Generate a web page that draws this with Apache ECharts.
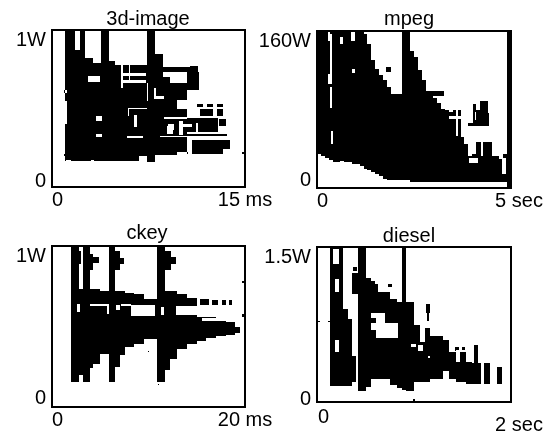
<!DOCTYPE html>
<html>
<head>
<meta charset="utf-8">
<title>power traces</title>
<style>
html, body { margin: 0; padding: 0; background: #fff; }
#chart { width: 552px; height: 435px; }
</style>
<script src="https://cdn.jsdelivr.net/npm/echarts@6/dist/echarts.min.js"></script>
</head>
<body>
<div id="chart"></div>
<script>
// every run is [fromX, toX, lowY, highY] in axis units (ms or sec, W)
const titles = ['3d-image', 'mpeg', 'ckey', 'diesel']
const yMaxLabels = ['1W', '160W', '1W', '1.5W']
const xMaxLabels = ['15 ms', '5 sec', '20 ms', '2 sec']
const xMax = [15, 5, 20, 2]
const yMax = [1, 160, 1, 1.5]

const imageRuns = [
  [1.04, 1.77, 0.163, 1], [1.77, 2.16, 0.163, 0.873], [2.16, 2.55, 0.163, 1], [2.55, 3.19, 0.163, 0.82],
  [3.19, 3.84, 0.163, 0.788], [3.84, 4.42, 0.163, 1], [4.42, 4.88, 0.163, 0.8], [4.88, 7.35, 0.163, 0.78],
  [7.35, 8.0, 0.157, 1], [8.0, 8.65, 0.206, 0.85], [8.65, 9.17, 0.206, 0.7], [9.17, 9.69, 0.206, 0.66],
  [9.69, 10.47, 0.555, 0.66], [9.69, 10.47, 0.22, 0.5], [10.47, 11.4, 0.62, 0.73], [10.73, 11.38, 0.72, 0.77],
  [8.4, 10.7, 0.735, 0.765], [11.25, 11.75, 0.51, 0.53], [12.03, 12.55, 0.51, 0.53], [12.81, 13.3, 0.51, 0.53],
  [11.5, 12.5, 0.45, 0.5], [12.8, 13.3, 0.45, 0.5], [10.2, 12.9, 0.35, 0.44], [13.0, 13.55, 0.39, 0.43],
  [9.2, 13.6, 0.325, 0.34], [10.9, 13.3, 0.21, 0.3], [13.3, 13.84, 0.24, 0.3], [14.8, 14.9, 0.21, 0.22],
  [0.9, 1.04, 0.6, 0.62], [0.9, 1.04, 0.2, 0.21], [10.5, 10.6, 0.21, 0.225]
]
const imageGaps = [
  [2.8, 3.7, 0.67, 0.71], [5.4, 5.5, 0.63, 0.78], [5.4, 7.3, 0.71, 0.725], [5.5, 7.3, 0.66, 0.68],
  [6.0, 6.1, 0.68, 0.78], [3.45, 3.85, 0.42, 0.45], [5.9, 7.35, 0.495, 0.505], [5.9, 6.0, 0.45, 0.5],
  [6.4, 6.6, 0.38, 0.46], [5.8, 7.1, 0.315, 0.325], [3.45, 3.9, 0.32, 0.335], [8.1, 8.7, 0.56, 0.58],
  [7.9, 8.05, 0.56, 0.63], [7.35, 7.45, 0.55, 0.66], [8.7, 10.5, 0.43, 0.445], [9.0, 9.5, 0.36, 0.4],
  [9.9, 10.2, 0.33, 0.42], [8.9, 9.4, 0.34, 0.39], [11.2, 11.35, 0.34, 0.41], [10.1, 10.9, 0.38, 0.4],
  [8.4, 13.6, 0.318, 0.325], [6.8, 7.35, 0.163, 0.195], [1.04, 1.2, 0.4, 0.55], [1.04, 1.2, 0.6, 0.62],
  [3.0, 3.3, 0.165, 0.175], [1.1, 1.5, 0.163, 0.175]
]

const mpegTime = [0, 0.1, 0.2, 0.3, 0.4, 0.5, 0.6, 0.7, 0.8, 0.9, 1, 1.1, 1.2, 1.3, 1.4, 1.5, 1.6, 1.7, 1.8, 1.9, 2, 2.1, 2.2, 2.3, 2.4, 2.5, 2.6, 2.7, 2.8, 2.9, 3, 3.1, 3.2, 3.3, 3.4, 3.5, 3.6, 3.7, 3.8, 3.9, 4, 4.1, 4.2, 4.3, 4.4, 4.5, 4.6, 4.7, 4.8]
const mpegHigh = [160, 160, 160, 160, 160, 160, 160, 160, 160, 160, 160, 160, 157, 147, 130, 121, 115, 110, 103, 96, 96, 96, 160, 160, 140, 133, 120, 110, 99, 94, 92, 87, 81, 79, 77, 79, 79, 52, 45, 33, 35, 47, 47, 47, 47, 33, 33, 30, 35]
const mpegLow = [35, 33, 31, 29, 26, 26, 28, 27, 26, 24.5, 24.5, 22, 19, 18, 16, 14, 12, 9, 8, 8, 8, 8, 8, 8, 6.5, 6.5, 6.5, 6.5, 6.5, 6.5, 6.5, 6.5, 6.5, 6.5, 6.5, 6.5, 6.5, 6.5, 6.5, 6.5, 6.5, 6.5, 6.5, 6.5, 6.5, 6.5, 6.5, 6.5, 6.5]
const mpegExtra = [
  [4.01, 4.19, 65, 86], [4.19, 4.4, 65, 89], [4.4, 4.44, 65, 76], [3.89, 4.44, 63, 66],
  [1.78, 1.91, 118, 123], [2.9, 3.27, 94, 99], [4.9, 5, 0, 160]
]
const mpegGaps = [
  [0.33, 0.39, 106, 157], [0.28, 0.37, 106, 116], [0.33, 0.38, 82, 103], [0.37, 0.41, 45, 58],
  [0.58, 0.67, 147, 154], [0.88, 0.97, 150, 159], [0.28, 0.33, 150, 159], [0.91, 0.97, 117, 121],
  [3.58, 3.63, 53, 79], [3.41, 3.76, 70, 73], [4.1, 4.19, 79, 86], [4.06, 4.1, 69, 77],
  [3.93, 4.14, 25, 31], [4.78, 4.87, 14, 31], [4.23, 4.29, 33, 47]
]

const ckeyRuns = [
  [2.0, 2.8, 0.156, 1], [2.8, 3.2, 0.2, 0.73], [3.2, 3.9, 0.156, 1], [3.9, 4.3, 0.24, 0.73],
  [4.3, 5.0, 0.27, 0.73], [5.0, 5.9, 0.33, 0.72], [5.9, 6.5, 0.156, 1], [6.5, 7.0, 0.25, 0.72],
  [7.0, 7.6, 0.32, 0.72], [7.6, 8.5, 0.37, 0.71], [8.5, 9.5, 0.39, 0.7], [9.5, 10.9, 0.42, 0.67],
  [10.9, 11.7, 0.156, 1], [11.7, 12.2, 0.23, 0.72], [12.2, 13, 0.3, 0.72], [13, 14, 0.36, 0.7],
  [14, 15, 0.39, 0.675], [15, 16, 0.41, 0.56], [16, 17, 0.43, 0.56], [17, 18, 0.44, 0.55],
  [18, 19, 0.45, 0.53], [19, 19.5, 0.46, 0.5], [15.3, 16.3, 0.635, 0.67], [16.6, 17.2, 0.635, 0.665],
  [17.6, 18.0, 0.635, 0.665], [18.3, 18.7, 0.635, 0.665], [3.9, 4.9, 0.895, 0.93], [6.5, 7.5, 0.89, 0.925],
  [11.7, 12.9, 0.89, 0.93], [6.5, 7.0, 0.85, 0.97], [11.7, 12.3, 0.85, 0.97], [3.9, 4.2, 0.85, 0.95],
  [2.8, 3.05, 0.89, 0.97], [9.9, 10.0, 0.34, 0.35], [11.0, 11.1, 0.135, 0.145], [19.7, 19.85, 0.77, 0.785],
  [19.7, 19.85, 0.56, 0.575]
]
const ckeyGaps = [
  [8.2, 10.7, 0.565, 0.635], [12.8, 15.3, 0.57, 0.63], [3.9, 5.9, 0.63, 0.64], [2.6, 2.9, 0.59, 0.64],
  [5.7, 5.9, 0.58, 0.635], [6.6, 7, 0.6, 0.635], [7.2, 8.2, 0.625, 0.64], [11.3, 11.6, 0.57, 0.62],
  [2.75, 2.95, 0.74, 0.86], [15.5, 19, 0.535, 0.55]
]

const dieselRuns = [
  [0.13, 0.27, 0.156, 1.5], [0.27, 0.32, 0.156, 0.9], [0.32, 0.36, 0.156, 0.8], [0.36, 0.405, 0.19, 0.45],
  [0.36, 0.42, 1.05, 1.25], [0.42, 0.51, 0.11, 1.5], [0.51, 0.56, 0.15, 1.2], [0.56, 0.63, 0.22, 1.14],
  [0.63, 0.75, 0.22, 1.06], [0.75, 0.82, 0.16, 1.0], [0.82, 0.88, 0.14, 0.97], [0.88, 0.92, 0.12, 1.5],
  [0.92, 1.005, 0.11, 0.97], [1.005, 1.06, 0.19, 0.75], [1.06, 1.11, 0.19, 0.58], [1.11, 1.17, 0.19, 0.72],
  [1.17, 1.3, 0.22, 0.64], [1.3, 1.365, 0.3, 0.6], [1.365, 1.43, 0.22, 0.48], [1.43, 1.54, 0.19, 0.48],
  [1.54, 1.6, 0.17, 0.39], [1.57, 1.69, 0.17, 0.375], [1.62, 1.66, 0.375, 0.55], [1.725, 1.78, 0.17, 0.375],
  [1.86, 1.91, 0.17, 0.34], [1.125, 1.165, 0.86, 0.95], [1.13, 1.15, 0.78, 0.86], [0.56, 0.6, 1.14, 1.17],
  [0.73, 0.77, 1.11, 1.14], [0.37, 0.41, 1.27, 1.31], [1.49, 1.53, 0.5, 0.53], [1.42, 1.46, 0.49, 0.53],
  [1.985, 2, 0, 1.5], [0.005, 0.03, 0.77, 0.785], [0.11, 0.13, 0.77, 0.785], [0.99, 1.01, 0.01, 0.025]
]
const dieselGaps = [
  [0.17, 0.23, 1.34, 1.48], [0.19, 0.23, 1.06, 1.19], [0.19, 0.23, 0.48, 0.6], [0.56, 0.7, 0.81, 0.86],
  [0.61, 0.7, 0.62, 0.82], [0.7, 0.84, 0.62, 0.76], [0.56, 0.61, 0.7, 0.76], [0.97, 1.02, 0.53, 0.56],
  [1.04, 1.09, 0.49, 0.55], [1.14, 1.16, 0.43, 0.45], [1.43, 1.47, 0.39, 0.5]
]

const mpegRuns = mpegTime.map((t, i) => [t, mpegTime[i + 1] || 4.9, mpegLow[i], mpegHigh[i]]).concat(mpegExtra)
const allRuns = [imageRuns, mpegRuns, ckeyRuns, dieselRuns]
const allGaps = [imageGaps, mpegGaps, ckeyGaps, dieselGaps]

const grids = [
  { left: 52, top: 30, width: 193, height: 157 },
  { left: 317, top: 31, width: 194, height: 157 },
  { left: 52, top: 246, width: 193, height: 161 },
  { left: 317, top: 247, width: 194, height: 160 }
]
const titlePos = [[148, 9], [409, 9], [147, 223], [409, 226]]
const zeroPos = [[46, 181, 'right'], [311, 180, 'right'], [46, 398, 'right'], [311, 399, 'right'], [318, 417, 'left']]
const fontFamily = '"Liberation Sans", Arial, sans-serif'

function drawRun(color) {
  return function(params, api) {
    const a = api.coord([api.value(0), api.value(3)])
    const b = api.coord([api.value(1), api.value(2)])
    const x0 = Math.round(a[0])
    const y0 = Math.round(a[1])
    return {
      type: 'rect',
      shape: { x: x0, y: y0, width: Math.max(Math.round(b[0]) - x0, 1), height: Math.max(Math.round(b[1]) - y0, 1) },
      style: { fill: color }
    }
  }
}

const option = {
  animation: false,
  backgroundColor: '#fff',
  title: titles.map((t, i) => ({
    text: t,
    left: titlePos[i][0],
    top: titlePos[i][1],
    textAlign: 'center',
    padding: 0,
    textStyle: { color: '#000', fontSize: 20, fontWeight: 'normal', fontFamily: fontFamily }
  })),
  grid: grids.map((g) => ({ ...g, show: true, borderColor: '#000', borderWidth: 2, backgroundColor: '#fff' })),
  // zeros placed by hand, ECharts pushes them around when the labels sit close
  graphic: zeroPos.map((p) => ({
    type: 'text',
    x: p[0],
    y: p[1],
    style: { text: '0', fill: '#000', fontSize: 20, fontFamily: fontFamily, align: p[2], verticalAlign: 'middle' }
  })),
  xAxis: xMax.map((m, i) => ({
    type: 'value',
    gridIndex: i,
    min: 0,
    max: m,
    interval: m,
    splitLine: { show: false },
    axisTick: { show: false },
    axisLine: { show: false },
    axisLabel: {
      color: '#000',
      fontSize: 20,
      fontFamily: fontFamily,
      margin: 3,
      showMinLabel: i !== 3,
      alignMinLabel: 'left',
      alignMaxLabel: 'center',
      formatter: (v) => (v === 0 ? '0' : (i === 3 ? '{low|' + xMaxLabels[i] + '}' : i === 1 ? '{side|' + xMaxLabels[i] + '}' : xMaxLabels[i])),
      rich: {
        side: { fontSize: 20, fontFamily: fontFamily, color: '#000', padding: [0, 0, 0, 16] },
        low: { fontSize: 20, fontFamily: fontFamily, color: '#000', padding: [10, 0, 0, 16] }
      }
    }
  })),
  yAxis: yMax.map((m, i) => ({
    type: 'value',
    gridIndex: i,
    min: 0,
    max: m,
    interval: m,
    splitLine: { show: false },
    axisTick: { show: false },
    axisLine: { show: false },
    axisLabel: {
      color: '#000',
      fontSize: 20,
      fontFamily: fontFamily,
      margin: 6,
      showMinLabel: false,
      verticalAlignMaxLabel: 'top',
      formatter: (v) => (v === 0 ? '' : yMaxLabels[i])
    }
  })),
  series: [
    ...allRuns.map((runs, i) => ({
      type: 'custom',
      xAxisIndex: i,
      yAxisIndex: i,
      clip: true,
      silent: true,
      renderItem: drawRun('#000'),
      encode: { x: [0, 1], y: [2, 3] },
      data: runs,
      z: 2
    })),
    ...allGaps.map((gaps, i) => ({
      type: 'custom',
      xAxisIndex: i,
      yAxisIndex: i,
      clip: true,
      silent: true,
      renderItem: drawRun('#fff'),
      encode: { x: [0, 1], y: [2, 3] },
      data: gaps,
      z: 3
    }))
  ]
}

const chart = echarts.init(document.getElementById('chart'))
chart.setOption(option)
</script>
</body>
</html>
